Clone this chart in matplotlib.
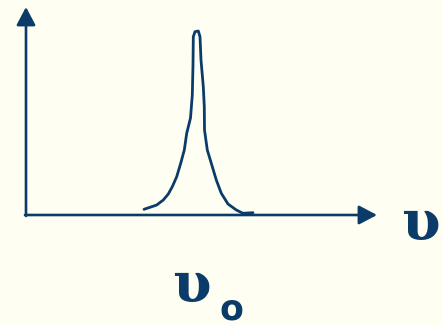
import matplotlib.pyplot as plt

# spectral line profile: frequency offset from the axis origin vs intensity
freq = [118.0, 124.0, 130.7, 137.3, 142.3, 146.3, 150.7, 154.7, 158.3, 160.7,
        164.5, 166.3, 167.0, 167.3, 169.0, 172.3, 174.0, 175.0, 177.3,
        178.3, 178.5, 181.3, 185.3, 190.3, 195.3, 202.0, 210.3, 217.0, 227.0]
intensity = [5.7, 7.7, 10.0, 15.0, 21.0, 28.3, 38.3, 51.7, 65.0, 81.7,
             97.0, 120.0, 150.0, 178.3, 183.3, 184.0, 178.3, 155.0, 128.3,
             108.3, 85.0, 65.0, 51.7, 35.0, 21.7, 11.0, 5.0, 1.7, 2.3]

x_label = 'υ'
peak_label = 'υ'
peak_sub = 'o'

navy = '#0b3c69'
bg = '#fefef2'

fig = plt.figure(figsize=(4.43, 3.25), dpi=100, facecolor=bg)
ax = fig.add_axes([0, 0, 1, 1])
ax.set_facecolor(bg)
ax.set_xlim(-26, 417)
ax.set_ylim(-110, 215)
ax.axis('off')

arrow = dict(arrowstyle='-|>,head_length=11,head_width=5.8', mutation_scale=1,
             color=navy, lw=1.9, shrinkA=0, shrinkB=0)
ax.annotate('', xy=(351, 0), xytext=(-1, 0), arrowprops=arrow)
ax.annotate('', xy=(0, 208), xytext=(0, -1), arrowprops=arrow)

ax.plot(freq, intensity, color=navy, lw=2.0, solid_joinstyle='round',
        solid_capstyle='round')

greek = dict(color=navy, fontsize=40, fontweight='bold', family='DejaVu Serif',
             ha='center', va='center')
ax.text(394, -10, x_label, **greek)
ax.text(165, -71, peak_label, **greek)
ax.text(205, -94, peak_sub, color=navy, fontsize=25, fontweight='bold',
        ha='center', va='center')

fig.savefig('out.png', dpi=100, facecolor=bg)
